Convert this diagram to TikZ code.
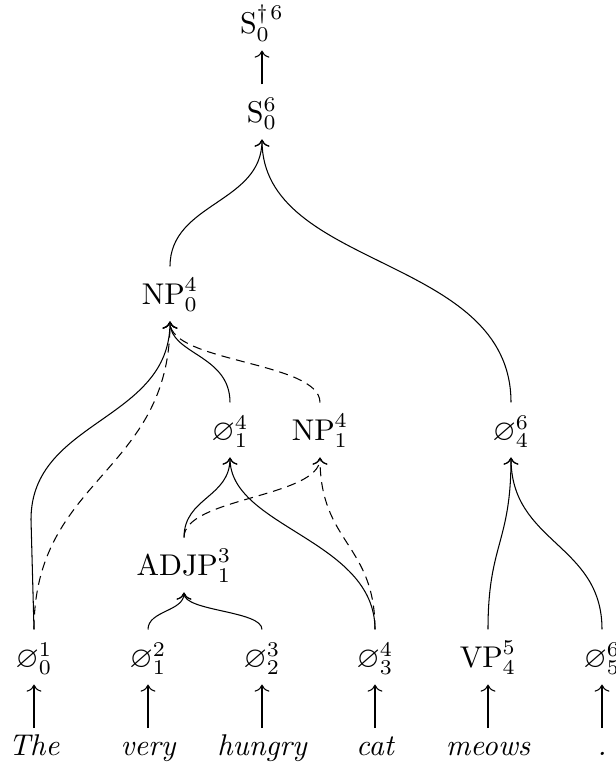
\documentclass[tikz,border=0pt]{standalone}
\usepackage{amssymb}
\usetikzlibrary{arrows.meta}
\begin{document}
\begin{tikzpicture}[x=0.3333pt,y=-0.3333pt,line width=0.35pt,
  lab/.style={inner xsep=1pt, inner ysep=4pt, text height=8.5pt, text depth=1.5pt},
  wrd/.style={anchor=north, inner ysep=2pt, text height=7pt, text depth=2pt, font=\itshape},
  sol/.style={-{To}},
  dsh/.style={-{To}, dash pattern=on 3pt off 2pt}]
\useasboundingbox (0,0) rectangle (616,765);
% labels
\node[lab] (st)   at (262,23)  {$\mathrm{S}_0^{\dagger\mkern2mu 6}$};
\node[lab] (s0)   at (262,112) {$\mathrm{S}_0^{6}$};
\node[lab] (np0)  at (170,294) {$\mathrm{NP}_0^{4}$};
\node[lab] (e14)  at (230,430) {$\varnothing_1^{4}$};
\node[lab] (np1)  at (320,430) {$\mathrm{NP}_1^{4}$};
\node[lab] (e46)  at (511,430) {$\varnothing_4^{6}$};
\node[lab] (adjp) at (184,565) {$\mathrm{ADJP}_1^{3}$};
\node[lab] (c0)   at (34,657)  {$\varnothing_0^{1}$};
\node[lab] (c1)   at (148,657) {$\varnothing_1^{2}$};
\node[lab] (c2)   at (262,657) {$\varnothing_2^{3}$};
\node[lab] (c3)   at (375,657) {$\varnothing_3^{4}$};
\node[lab] (vp)   at (488,657) {$\mathrm{VP}_4^{5}$};
\node[lab] (c5)   at (602,657) {$\varnothing_5^{6}$};
% words
\node[wrd] (w0) at (34,728)  {The};
\node[wrd] (w1) at (148,728) {very};
\node[wrd] (w2) at (262,728) {hungry};
\node[wrd] (w3) at (375,728) {cat};
\node[wrd] (w4) at (488,728) {meows};
\node[wrd] (w5) at (602,728) {.};
% word arrows
\foreach \w/\c in {w0/c0,w1/c1,w2/c2,w3/c3,w4/vp,w5/c5}
  \draw[sol] (\w.north) -- (\c.south);
\draw[sol] (s0.north) -- (st.south);
% tree edges
\draw[sol] (np0.north) .. controls +(0,-64) and +(0,64) .. (s0.south);
\draw[sol] (e46.north) .. controls +(0,-148) and +(0,131) .. (s0.south);
\draw[sol] (c0.north) -- ++(-3,-110) .. controls +(0,-100) and +(0,100) .. (np0.south);
\draw[dsh] (c0.north) .. controls +(0,-152) and +(0,152) .. (np0.south);
\draw[sol] (e14.north) .. controls +(0,-48) and +(0,33) .. (np0.south);
\draw[dsh] (np1.north) .. controls +(0,-41) and +(0,41) .. (np0.south);
\draw[sol] (adjp.north) .. controls +(0,-40) and +(0,40) .. (e14.south);
\draw[dsh] (adjp.north) .. controls +(0,-40) and +(0,40) .. (np1.south);
\draw[sol] (c3.north) .. controls +(0,-90) and +(0,70) .. (e14.south);
\draw[dsh] (c3.north) .. controls +(0,-86) and +(0,86) .. (np1.south);
\draw[sol] (c1.north) .. controls +(0,-19) and +(0,19) .. (adjp.south);
\draw[sol] (c2.north) .. controls +(0,-19) and +(0,19) .. (adjp.south);
\draw[sol] (vp.north) .. controls +(0,-86) and +(0,86) .. (e46.south);
\draw[sol] (c5.north) .. controls +(0,-86) and +(0,86) .. (e46.south);
\end{tikzpicture}
\end{document}
